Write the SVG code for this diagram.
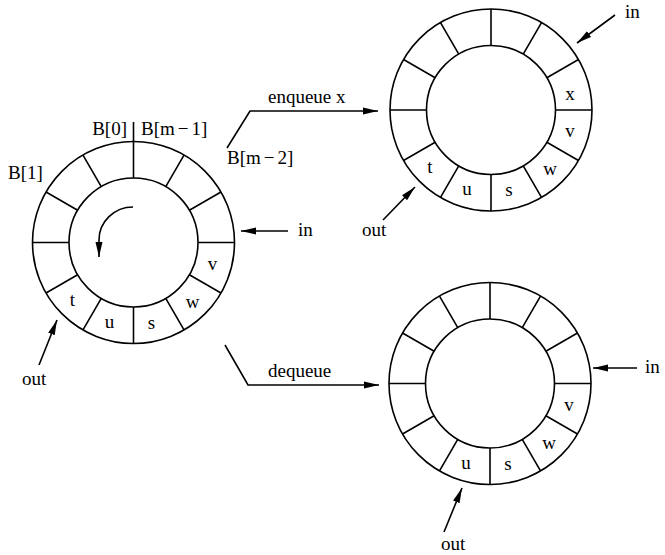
<svg xmlns="http://www.w3.org/2000/svg" xmlns:xlink="http://www.w3.org/1999/xlink" width="665" height="555" viewBox="0 0 665 555">
  <style>
    .ln { fill: none; stroke: #000; stroke-width: 1.6; }
    .lb { font-family: "Liberation Serif", "Times New Roman", serif; font-size: 19px; fill: #000; }
    .cell { font-family: "Liberation Serif", "Times New Roman", serif; font-size: 19px; fill: #000; text-anchor: middle; }
    .arr { fill: none; stroke: #000; stroke-width: 1.6; marker-end: url(#head); }
  </style>
  <defs>
    <marker id="head" markerUnits="userSpaceOnUse" viewBox="0 0 15 8" markerWidth="15" markerHeight="8" refX="15" refY="4" orient="auto">
      <path d="M0,0.5 L15,4 L0,7.5 z" fill="#000"/>
    </marker>
    <g id="ring">
      <circle cx="0" cy="0" r="101" class="ln"/>
      <circle cx="0" cy="0" r="64.5" class="ln"/>
      <path class="ln" d="M64.5,0 L101,0 M55.86,-32.25 L87.47,-50.5 M32.25,-55.86 L50.5,-87.47 M0,-64.5 L0,-101 M-32.25,-55.86 L-50.5,-87.47 M-55.86,-32.25 L-87.47,-50.5 M-64.5,0 L-101,0 M-55.86,32.25 L-87.47,50.5 M-32.25,55.86 L-50.5,87.47 M0,64.5 L0,101 M32.25,55.86 L50.5,87.47 M55.86,32.25 L87.47,50.5"/>
    </g>
  </defs>
  <rect width="665" height="555" fill="#fff"/>

  <g id="ring-initial">
    <use xlink:href="#ring" href="#ring" x="133.5" y="242.5"/>
    <line class="ln" x1="133.5" y1="122" x2="133.5" y2="141.5"/>
    <path class="arr" d="M133,207 A34,33 0 0 0 99,240 L99,257"/>
    <g transform="translate(133.5,242.5)">
      <text class="cell" x="79" y="27">v</text>
      <text class="cell" x="59" y="65">w</text>
      <text class="cell" x="18" y="86">s</text>
      <text class="cell" x="-24" y="85">u</text>
      <text class="cell" x="-61" y="63">t</text>
    </g>
    <text class="lb" x="127" y="135" text-anchor="end">B[0]</text>
    <text class="lb" x="141" y="135">B[m<tspan dx="3">−</tspan><tspan dx="3">1]</tspan></text>
    <text class="lb" x="227" y="164">B[m<tspan dx="3">−</tspan><tspan dx="3">2]</tspan></text>
    <text class="lb" x="8" y="179">B[1]</text>
  </g>

  <g id="ring-enqueued">
    <use xlink:href="#ring" href="#ring" x="491" y="110"/>
    <g transform="translate(491,110)">
      <text class="cell" x="79" y="-10">x</text>
      <text class="cell" x="79" y="27">v</text>
      <text class="cell" x="59" y="65">w</text>
      <text class="cell" x="18" y="86">s</text>
      <text class="cell" x="-24" y="85">u</text>
      <text class="cell" x="-61" y="63">t</text>
    </g>
  </g>

  <g id="ring-dequeued">
    <use xlink:href="#ring" href="#ring" x="490" y="383.5"/>
    <g transform="translate(490,383.5)">
      <text class="cell" x="79" y="27">v</text>
      <text class="cell" x="59" y="65">w</text>
      <text class="cell" x="18" y="86">s</text>
      <text class="cell" x="-24" y="85">u</text>
    </g>
  </g>

  <g id="connectors">
    <polyline class="arr" points="227,148 250,111 378,111"/>
    <text class="lb" x="268" y="103">enqueue x</text>
    <polyline class="arr" points="225,345 248,385 379,385"/>
    <text class="lb" x="268" y="377">dequeue</text>
  </g>

  <g id="pointers">
    <line class="arr" x1="288" y1="231" x2="241" y2="231"/>
    <text class="lb" x="298" y="236">in</text>
    <line class="arr" x1="39" y1="365" x2="57" y2="320"/>
    <text class="lb" x="22" y="385">out</text>
    <line class="arr" x1="615" y1="15" x2="577" y2="43"/>
    <text class="lb" x="625" y="18">in</text>
    <line class="arr" x1="383" y1="220" x2="415" y2="187"/>
    <text class="lb" x="362" y="236">out</text>
    <line class="arr" x1="637" y1="368" x2="593" y2="368"/>
    <text class="lb" x="645" y="373">in</text>
    <line class="arr" x1="444" y1="532" x2="462" y2="488"/>
    <text class="lb" x="441" y="550">out</text>
  </g>
</svg>
